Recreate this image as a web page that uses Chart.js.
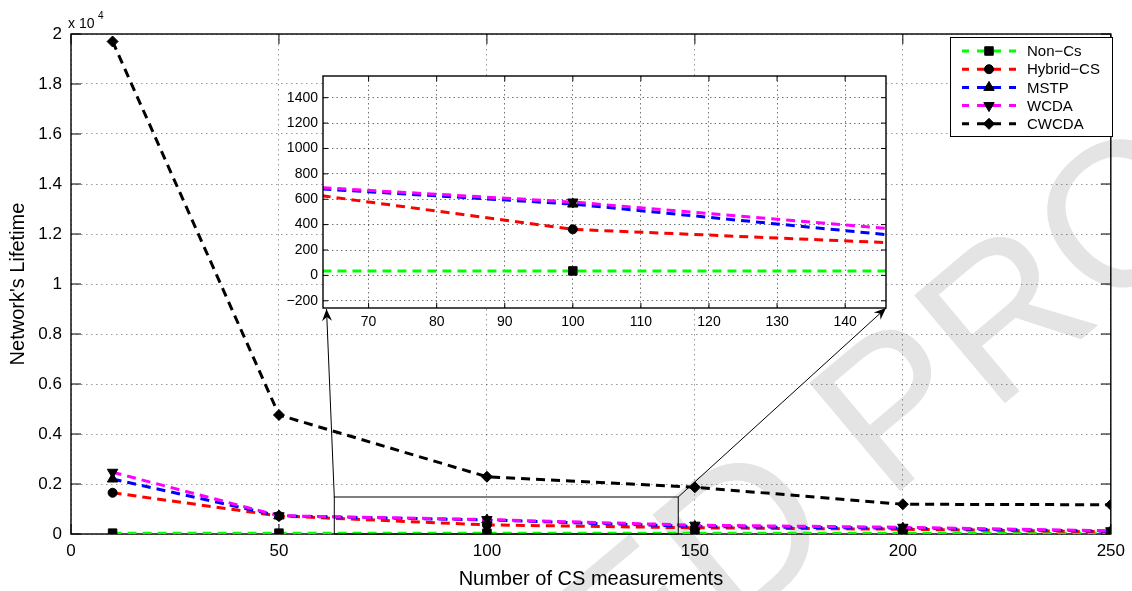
<!DOCTYPE html>
<html>
<head>
<meta charset="utf-8">
<script src="https://cdn.jsdelivr.net/npm/chart.js@4.4.1/dist/chart.umd.min.js"></script>
<style>
  html, body { margin: 0; padding: 0; background: #fff; }
  #wrap { position: relative; width: 1132px; height: 591px; }
  #wrap canvas { position: absolute; left: 0; top: 0; }
</style>
</head>
<body>
<div id="wrap">
  <canvas id="mainChart" width="1132" height="591"></canvas>
  <canvas id="zoomChart" width="1132" height="591"></canvas>
</div>
<script>
// number of CS measurements
var measurements = [10, 50, 100, 150, 200, 250];

// network lifetime of each scheme
var nonCs    = [35, 35, 35, 35, 35, 35];
var hybridCs = [1650, 722, 363, 249, 190, 90];
var mstp     = [2200, 723, 562, 300, 235, 110];
var wcda     = [2470, 731, 578, 353, 270, 130];
var cwcda    = [19700, 4760, 2290, 1870, 1190, 1170];

var seriesNames   = ['Non\u2212Cs', 'Hybrid\u2212CS', 'MSTP', 'WCDA', 'CWCDA'];
var seriesColors  = ['#00ff00', '#ff0000', '#0000ff', '#ff00ff', '#000000'];
var seriesMarkers = ['rect', 'circle', 'triangle', 'triangle', 'rectRot'];
var markerSizes   = [6, 4.5, 6, 6, 5.5];
var markerTurns   = [0, 0, 0, 180, 0];

// tick positions
var xTicksMain = [0, 50, 100, 150, 200, 250];
var yTicksMain = [0, 2000, 4000, 6000, 8000, 10000, 12000, 14000, 16000, 18000, 20000];
var xTicksZoom = [70, 80, 90, 100, 110, 120, 130, 140];
var yTicksZoom = [-200, 0, 200, 400, 600, 800, 1000, 1200, 1400];

// zoomed window
var zoomX = [63.3, 146];
var zoomY = [-257, 1571];
var zoomBoxTop = 1480;

var FONT = '"Liberation Sans", Arial, Helvetica, sans-serif';
Chart.defaults.font.family = FONT;
Chart.defaults.color = '#000';

function makeSets(clipLines) {
  var values = [nonCs, hybridCs, mstp, wcda, cwcda];
  return values.map(function (vals, i) {
    var ds = {
      label: seriesNames[i],
      data: measurements.map(function (m, j) { return { x: m, y: vals[j] }; }),
      borderColor: seriesColors[i],
      backgroundColor: '#000',
      borderWidth: 3,
      borderDash: [9, 6],
      pointStyle: seriesMarkers[i],
      pointRadius: markerSizes[i],
      pointRotation: markerTurns[i],
      pointBackgroundColor: '#000',
      pointBorderColor: '#000',
      pointBorderWidth: 1,
      order: values.length - i,
      tension: 0,
      fill: false
    };
    if (clipLines) ds.clip = 0;
    return ds;
  });
}

function fixedTicks(list) {
  return function (scale) {
    scale.ticks = list.map(function (v) { return { value: v }; });
  };
}

// box with inward ticks on all four sides
function drawFrame(chart, len) {
  var a = chart.chartArea, ctx = chart.ctx;
  var sx = chart.scales.x, sy = chart.scales.y;
  ctx.save();
  ctx.strokeStyle = '#000';
  ctx.lineWidth = 1.4;
  ctx.setLineDash([]);
  ctx.strokeRect(a.left, a.top, a.right - a.left, a.bottom - a.top);
  ctx.lineWidth = 1;
  ctx.beginPath();
  sx.ticks.forEach(function (t) {
    var px = sx.getPixelForValue(t.value);
    ctx.moveTo(px, a.bottom); ctx.lineTo(px, a.bottom - len);
    ctx.moveTo(px, a.top); ctx.lineTo(px, a.top + len);
  });
  sy.ticks.forEach(function (t) {
    var py = sy.getPixelForValue(t.value);
    ctx.moveTo(a.left, py); ctx.lineTo(a.left + len, py);
    ctx.moveTo(a.right, py); ctx.lineTo(a.right - len, py);
  });
  ctx.stroke();
  ctx.restore();
}

function arrow(ctx, x0, y0, x1, y1) {
  var ang = Math.atan2(y1 - y0, x1 - x0);
  ctx.beginPath();
  ctx.moveTo(x0, y0);
  ctx.lineTo(x1, y1);
  ctx.stroke();
  ctx.save();
  ctx.translate(x1, y1);
  ctx.rotate(ang);
  ctx.beginPath();
  ctx.moveTo(0, 0);
  ctx.lineTo(-12, -5);
  ctx.lineTo(-8, 0);
  ctx.lineTo(-12, 5);
  ctx.closePath();
  ctx.fill();
  ctx.restore();
}

var mainPlugin = {
  id: 'mainDecor',
  beforeDraw: function (chart) {
    var ctx = chart.ctx;
    ctx.save();
    ctx.fillStyle = '#fff';
    ctx.fillRect(0, 0, chart.width, chart.height);
    // proof watermark
    ctx.font = '205px ' + FONT;
    ctx.fillStyle = '#e4e4e4';
    ctx.textBaseline = 'alphabetic';
    ctx.translate(787, 586);
    ctx.rotate(-40 * Math.PI / 180);
    var pre = ctx.measureText('UNCORRECTE').width;
    var dW = ctx.measureText('D').width;
    ctx.fillText('UNCORRECTED PROOF', -(pre + dW / 2), 0);
    ctx.restore();
  },
  beforeDatasetsDraw: function (chart) {
    drawFrame(chart, 10);
  },
  afterDatasetsDraw: function (chart) {
    // rectangle marking the zoomed window
    var ctx = chart.ctx, sx = chart.scales.x, sy = chart.scales.y;
    var x0 = sx.getPixelForValue(zoomX[0]), x1 = sx.getPixelForValue(zoomX[1]);
    var y0 = sy.getPixelForValue(zoomBoxTop), y1 = sy.getPixelForValue(0);
    ctx.save();
    ctx.strokeStyle = '#000';
    ctx.lineWidth = 1;
    ctx.strokeRect(x0, y0, x1 - x0, y1 - y0);
    ctx.restore();
  },
  afterDraw: function (chart) {
    var ctx = chart.ctx;
    ctx.save();
    // axis exponent
    ctx.fillStyle = '#000';
    ctx.textBaseline = 'alphabetic';
    ctx.textAlign = 'left';
    ctx.font = '14px ' + FONT;
    ctx.fillText('x 10', 68, 28);
    ctx.font = '10px ' + FONT;
    ctx.fillText('4', 98, 19);

    // legend
    var lx = 950, ly = 37, lw = 162, lh = 99;
    ctx.fillStyle = '#fff';
    ctx.fillRect(lx, ly, lw, lh);
    ctx.strokeStyle = '#000';
    ctx.lineWidth = 1;
    ctx.strokeRect(lx + 0.5, ly + 0.5, lw, lh);
    seriesNames.forEach(function (name, i) {
      var y = ly + 14 + i * 18.2;
      ctx.strokeStyle = seriesColors[i];
      ctx.lineWidth = 3;
      ctx.beginPath();
      ctx.moveTo(962, y); ctx.lineTo(969, y);
      ctx.moveTo(977, y); ctx.lineTo(1001, y);
      ctx.moveTo(1009, y); ctx.lineTo(1016, y);
      ctx.stroke();
      ctx.fillStyle = '#000';
      ctx.strokeStyle = '#000';
      ctx.lineWidth = 1;
      Chart.helpers.drawPoint(ctx, {
        pointStyle: seriesMarkers[i],
        radius: markerSizes[i],
        rotation: markerTurns[i],
        borderWidth: 1
      }, 989, y);
      ctx.fillStyle = '#000';
      ctx.font = '15px ' + FONT;
      ctx.textBaseline = 'middle';
      ctx.fillText(name, 1027, y + 1);
    });
    ctx.restore();
  }
};

var mainChart = new Chart(document.getElementById('mainChart').getContext('2d'), {
  type: 'line',
  data: { datasets: makeSets(false) },
  options: {
    responsive: false,
    animation: false,
    devicePixelRatio: 1,
    events: [],
    layout: { padding: { left: 0, top: 34, right: 13, bottom: 0 } },
    plugins: { legend: { display: false }, tooltip: { enabled: false } },
    scales: {
      x: {
        type: 'linear',
        min: 0,
        max: 250,
        afterBuildTicks: fixedTicks(xTicksMain),
        afterFit: function (s) { s.height = 57; },
        grid: { color: 'rgba(0,0,0,0.4)', lineWidth: 1, drawTicks: false },
        border: { display: false, dash: [1.5, 3.5] },
        ticks: { font: { size: 17 }, padding: 7, autoSkip: false, maxRotation: 0 },
        title: {
          display: true,
          text: 'Number of CS measurements',
          font: { size: 20 },
          padding: { top: 0, bottom: 0 }
        }
      },
      y: {
        type: 'linear',
        min: 0,
        max: 20000,
        afterBuildTicks: fixedTicks(yTicksMain),
        afterFit: function (s) { s.width = 71; },
        grid: { color: 'rgba(0,0,0,0.4)', lineWidth: 1, drawTicks: false },
        border: { display: false, dash: [1.5, 3.5] },
        ticks: {
          font: { size: 17 },
          padding: 9,
          autoSkip: false,
          callback: function (v) { return String(+(v / 10000).toFixed(1)); }
        },
        title: {
          display: true,
          text: "Network's Lifetime",
          font: { size: 20 },
          padding: { top: 6, bottom: 0 }
        }
      }
    }
  },
  plugins: [mainPlugin]
});

var zoomPlugin = {
  id: 'zoomDecor',
  beforeDraw: function (chart) {
    var a = chart.chartArea, ctx = chart.ctx;
    ctx.save();
    ctx.fillStyle = '#fff';
    ctx.fillRect(a.left, a.top, a.right - a.left, a.bottom - a.top);
    ctx.restore();
  },
  afterDatasetsDraw: function (chart) {
    drawFrame(chart, 5);
  },
  afterDraw: function (chart) {
    // arrows from the marked window to the enlarged view
    var a = chart.chartArea, ctx = chart.ctx;
    var sx = mainChart.scales.x, sy = mainChart.scales.y;
    var bx0 = sx.getPixelForValue(zoomX[0]), bx1 = sx.getPixelForValue(zoomX[1]);
    var by = sy.getPixelForValue(zoomBoxTop);
    ctx.save();
    ctx.strokeStyle = '#000';
    ctx.fillStyle = '#000';
    ctx.lineWidth = 1;
    arrow(ctx, bx0, by, a.left + 3.5, a.bottom + 1);
    arrow(ctx, bx1, by, a.right, a.bottom);
    ctx.restore();
  }
};

var zoomChart = new Chart(document.getElementById('zoomChart').getContext('2d'), {
  type: 'line',
  data: { datasets: makeSets(true) },
  options: {
    responsive: false,
    animation: false,
    devicePixelRatio: 1,
    events: [],
    layout: { padding: { left: 273, top: 76, right: 246, bottom: 253 } },
    plugins: { legend: { display: false }, tooltip: { enabled: false } },
    scales: {
      x: {
        type: 'linear',
        min: zoomX[0],
        max: zoomX[1],
        afterBuildTicks: fixedTicks(xTicksZoom),
        afterFit: function (s) { s.height = 30; },
        grid: { color: 'rgba(0,0,0,0.55)', lineWidth: 1, drawTicks: false },
        border: { display: false, dash: [1.5, 3] },
        ticks: {
          font: { size: 14 }, padding: 6, autoSkip: false, maxRotation: 0,
          callback: function (v) { return String(v); }
        }
      },
      y: {
        type: 'linear',
        min: zoomY[0],
        max: zoomY[1],
        afterBuildTicks: fixedTicks(yTicksZoom),
        afterFit: function (s) { s.width = 50; },
        grid: { color: 'rgba(0,0,0,0.55)', lineWidth: 1, drawTicks: false },
        border: { display: false, dash: [1.5, 3] },
        ticks: {
          font: { size: 14 }, padding: 5, autoSkip: false,
          callback: function (v) { return v < 0 ? '\u2212' + Math.abs(v) : String(v); }
        }
      }
    }
  },
  plugins: [zoomPlugin]
});
</script>
</body>
</html>
